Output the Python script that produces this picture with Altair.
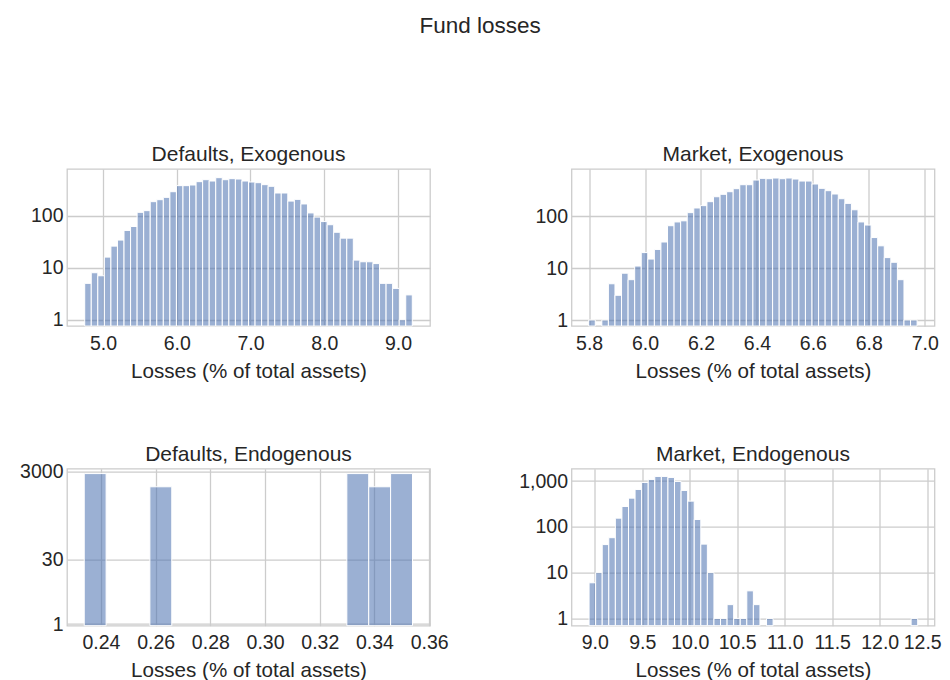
import altair as alt
import pandas as pd

FONT = "Liberation Sans"
TXT = "#262626"

main_title = "Fund losses"
x_title = "Losses (% of total assets)"
panel_titles = ["Defaults, Exogenous", "Market, Exogenous",
                "Defaults, Endogenous", "Market, Endogenous"]

# Defaults, Exogenous: 50 bins
de_range = [4.753, 9.193]
de_counts = [5, 8, 7, 16, 26, 34, 52, 62, 116, 125,
             186, 203, 225, 289, 378, 378, 389, 451, 492, 464,
             538, 492, 515, 507, 464, 444, 431, 395, 367, 273,
             273, 191, 206, 168, 113, 94, 77, 67, 48, 37,
             37, 14, 13, 13, 12, 5, 5, 4, 1, 3]

# Market, Exogenous: 50 bins
me_range = [5.7985, 6.9728]
me_counts = [1, 0, 1, 5, 3, 8, 6, 11, 20, 15,
             23, 32, 66, 78, 82, 118, 145, 161, 192, 239,
             266, 299, 342, 408, 408, 502, 541, 533, 549, 533,
             549, 525, 480, 480, 421, 347, 313, 270, 219, 178,
             134, 78, 68, 39, 27, 16, 13, 6, 1, 1]

# Defaults, Endogenous: 15 bins
dn_range = [0.2339, 0.3539]
dn_counts = [2700, 0, 0, 1350, 0, 0, 0, 0, 0, 0, 0, 0, 2700, 1350, 2700]

# Market, Endogenous: 50 bins
mn_range = [8.94, 12.40]
mn_counts = [6, 10, 41, 58, 155, 279, 424, 657, 935, 1088,
             1265, 1265, 1203, 984, 625, 365, 145, 42, 10, 1,
             1, 2, 1, 1, 4, 2, 0, 1, 0, 0,
             0, 0, 0, 0, 0, 0, 0, 0, 0, 0,
             0, 0, 0, 0, 0, 0, 0, 0, 0, 1]

# axis ranges / ticks
de_xdom = [4.513, 9.433]
me_xdom = [5.737, 7.035]
dn_xdom = [0.2276, 0.3603]
mn_xdom = [8.755, 12.577]
de_xticks = [5.0, 6.0, 7.0, 8.0, 9.0]
me_xticks = [5.8, 6.0, 6.2, 6.4, 6.6, 6.8, 7.0]
dn_xticks = [0.24, 0.26, 0.28, 0.30, 0.32, 0.34, 0.36]
mn_xticks = [9.0, 9.5, 10.0, 10.5, 11.0, 11.5, 12.0, 12.5]

de_ydom = [0.757, 790]
me_ydom = [0.766, 820]
dn_ydom = [0.92, 3490]
mn_ydom = [0.693, 1866]
de_yticks = [1, 10, 100]
me_yticks = [1, 10, 100]
dn_yticks = [1, 30, 3000]
mn_yticks = [1, 10, 100, 1000]

W, H = 363, 157


def panel(name, counts, rng, xdom, xticks, xfmt, ydom, yticks, yfmt, tdy=0,
          last_shift=0):
    n = len(counts)
    w = (rng[1] - rng[0]) / n
    df = pd.DataFrame({
        "lo": [rng[0] + i * w for i in range(n)],
        "hi": [rng[0] + (i + 1) * w for i in range(n)],
        "count": counts,
    })
    df = df[df["count"] > 0].copy()
    df["base"] = ydom[0]
    label_offset = {"condition": {"test": f"datum.value == {xticks[-1]}",
                                  "value": last_shift}, "value": 0}
    return alt.Chart(df, title=alt.TitleParams(
        name, fontSize=21, font=FONT, color=TXT, fontWeight="normal",
        anchor="middle", frame="group", offset=4, dy=tdy)).mark_bar(
        color="#4C72B0", fillOpacity=0.56, stroke="white", strokeWidth=1,
    ).encode(
        x=alt.X("lo:Q", scale=alt.Scale(domain=xdom, nice=False, zero=False),
                axis=alt.Axis(values=xticks, format=xfmt, title=x_title,
                              labelOverlap=False, labelFlush=False,
                              labelOffset=label_offset)),
        x2="hi:Q",
        y=alt.Y("count:Q", scale=alt.Scale(type="log", domain=ydom, nice=False),
                axis=alt.Axis(values=yticks, format=yfmt, title=None,
                              labelFlush=False, minExtent=58, maxExtent=58)),
        y2="base:Q",
    ).properties(width=W, height=H)


p1 = panel(panel_titles[0], de_counts, de_range, de_xdom, de_xticks, ".1f", de_ydom, de_yticks, "d")
p2 = panel(panel_titles[1], me_counts, me_range, me_xdom, me_xticks, ".1f", me_ydom, me_yticks, "d")
p3 = panel(panel_titles[2], dn_counts, dn_range, dn_xdom, dn_xticks, ".2f", dn_ydom, dn_yticks, "d", tdy=7)
p4 = panel(panel_titles[3], mn_counts, mn_range, mn_xdom, mn_xticks, ".1f", mn_ydom, mn_yticks, ",d",
           last_shift=-5)

chart = alt.concat(
    p1, p2, p3, p4, columns=2, bounds="flush",
    spacing={"row": 142.7, "column": 141.5},
    title=alt.TitleParams(main_title, fontSize=22.5, font=FONT, color=TXT,
                          fontWeight="normal", anchor="middle", offset=106, dx=5),
).properties(
    padding={"left": 0, "top": 6, "right": 0, "bottom": 0},
    background="white",
).configure_view(
    stroke="#cccccc", strokeWidth=1.3,
).configure_axis(
    domain=False, ticks=False, grid=True, gridColor="#cccccc", gridWidth=1.3,
    labelFont=FONT, labelFontSize=19.5, labelColor=TXT, labelPadding=4,
    titleFont=FONT, titleFontSize=20.6, titleFontWeight="normal", titleColor=TXT,
    titlePadding=8.5,
).configure_axisX(labelPadding=8)

chart.save("out.html", embed_options={"renderer": "svg", "actions": False})
